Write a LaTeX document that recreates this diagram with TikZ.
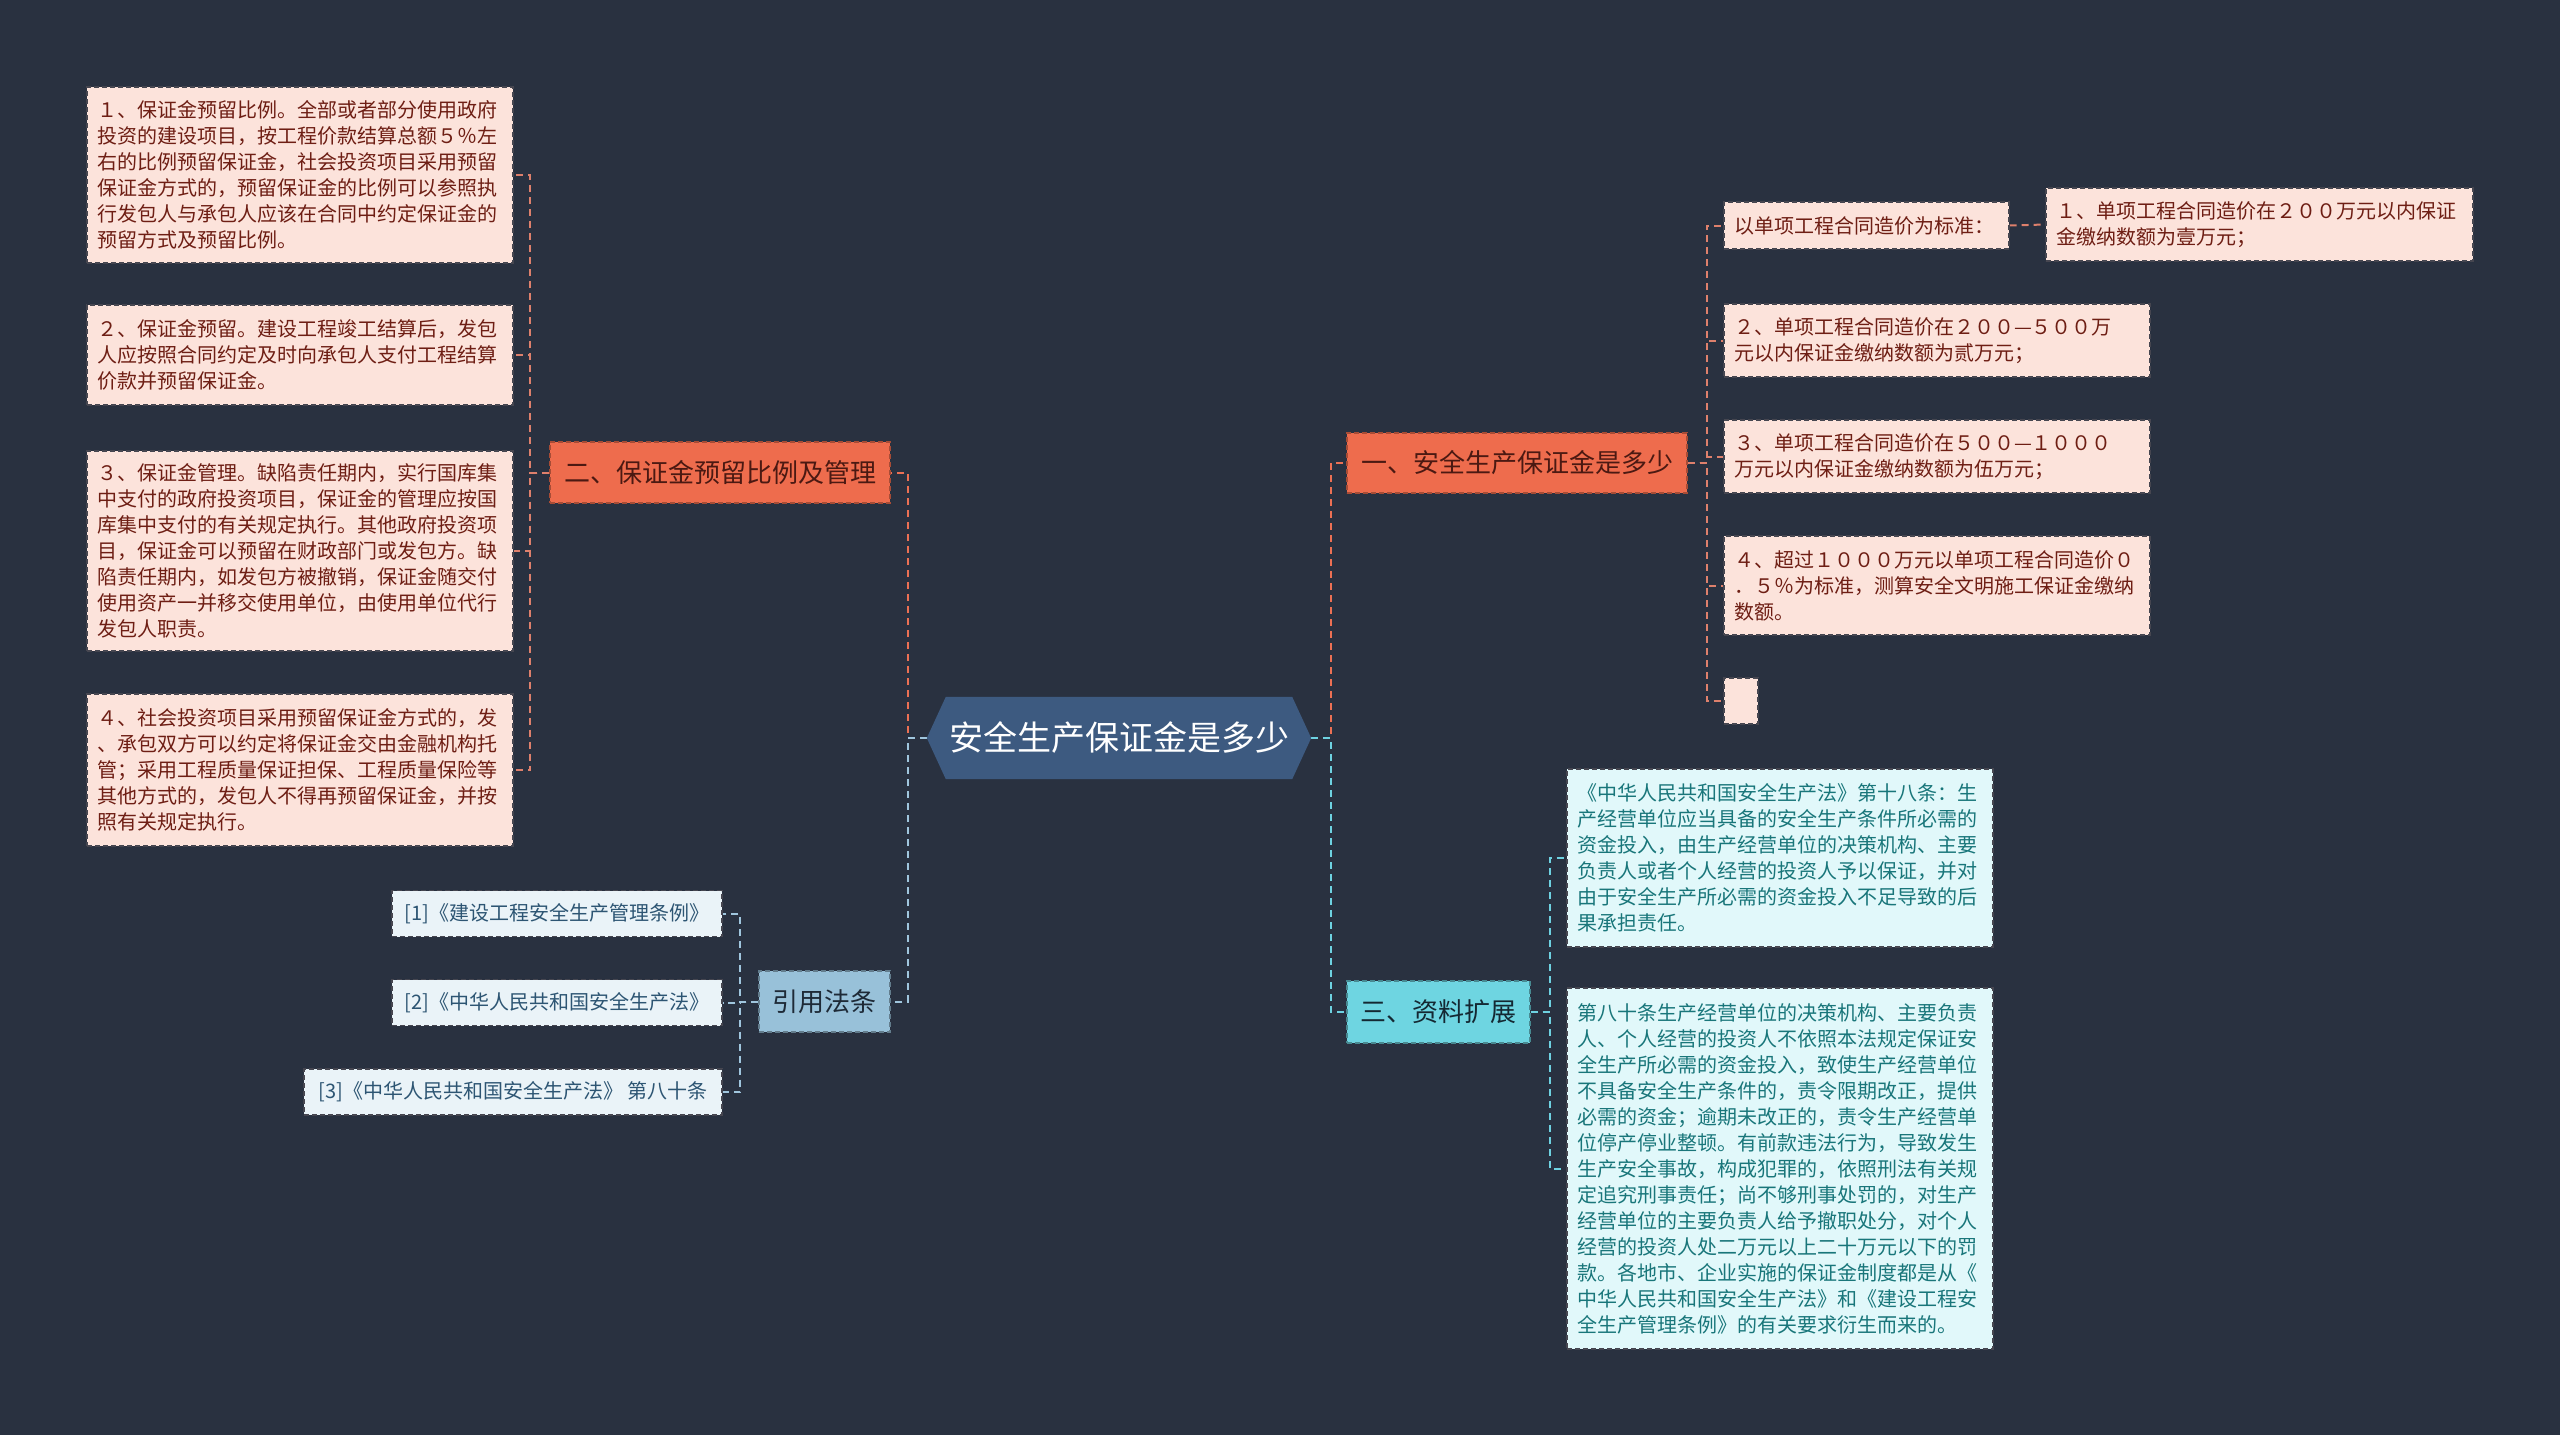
\documentclass[tikz,border=0pt]{standalone}
\usepackage{fontspec}
\setmainfont{Noto Sans CJK SC}
\usetikzlibrary{backgrounds}
\definecolor{bgc}{RGB}{41,49,64}
\definecolor{hexc}{RGB}{61,90,128}
\definecolor{orc}{RGB}{238,108,77}
\definecolor{ortx}{RGB}{75,25,18}
\definecolor{leafc}{RGB}{252,227,219}
\definecolor{leaftx}{RGB}{110,30,20}
\definecolor{cyc}{RGB}{110,213,225}
\definecolor{cytx}{RGB}{20,40,50}
\definecolor{cyleaf}{RGB}{225,248,250}
\definecolor{cyleaftx}{RGB}{25,118,122}
\definecolor{rfc}{RGB}{152,193,217}
\definecolor{rftx}{RGB}{30,42,55}
\definecolor{rfleaf}{RGB}{234,243,248}
\definecolor{rfleaftx}{RGB}{45,85,115}
\definecolor{orline}{RGB}{236,112,84}
\definecolor{leafline}{RGB}{222,128,108}
\definecolor{cyline}{RGB}{110,210,225}
\definecolor{rfline}{RGB}{160,198,222}
\definecolor{edgec}{RGB}{70,70,80}
\tikzset{
  boxbase/.style={rectangle, inner sep=0pt, draw=edgec, line width=1.2pt, dash pattern=on 5pt off 3pt, align=left},
  leafbox/.style={boxbase, fill=leafc, text=leaftx, font=\fontsize{20}{26}\selectfont},
  cyleafbox/.style={boxbase, fill=cyleaf, text=cyleaftx, font=\fontsize{20}{26}\selectfont},
  rfleafbox/.style={boxbase, fill=rfleaf, text=rfleaftx, font=\fontsize{20}{26}\selectfont},
  orbox/.style={boxbase, draw=orc!70!black, fill=orc, text=ortx, font=\fontsize{26}{30}\selectfont},
  cybox/.style={boxbase, draw=cyc!65!black, fill=cyc, text=cytx, font=\fontsize{26}{30}\selectfont},
  rfbox/.style={boxbase, draw=rfc!65!black, fill=rfc, text=rftx, font=\fontsize{26}{30}\selectfont},
  conn/.style={line width=2pt, dash pattern=on 7pt off 5pt},
}
\begin{document}
\begin{tikzpicture}[x=1pt,y=-1pt]
\useasboundingbox (0,0) rectangle (2560,1435);
% center
\node[minimum width=384pt, minimum height=82pt, inner sep=0pt, text=white, font=\fontsize{34}{40}\selectfont] (c) at (1119,738) {安全生产保证金是多少};
% branches
\node[orbox, minimum width=340pt, minimum height=61pt] (b2) at (720,472.5) {二、保证金预留比例及管理};
\node[orbox, minimum width=340pt, minimum height=60pt] (b1) at (1517,463) {一、安全生产保证金是多少};
\node[cybox, minimum width=183pt, minimum height=62pt] (b3) at (1438.5,1012) {三、资料扩展};
\node[rfbox, minimum width=131pt, minimum height=61pt] (b4) at (824.5,1001.5) {引用法条};
% left leaves
\node[leafbox, minimum width=426pt, minimum height=176pt, text width=406pt] (l1) at (300,175) {１、保证金预留比例。全部或者部分使用政府\\投资的建设项目，按工程价款结算总额５％左\\右的比例预留保证金，社会投资项目采用预留\\保证金方式的，预留保证金的比例可以参照执\\行发包人与承包人应该在合同中约定保证金的\\预留方式及预留比例。};
\node[leafbox, minimum width=426pt, minimum height=100pt, text width=406pt] (l2) at (300,355) {２、保证金预留。建设工程竣工结算后，发包\\人应按照合同约定及时向承包人支付工程结算\\价款并预留保证金。};
\node[leafbox, minimum width=426pt, minimum height=200pt, text width=406pt] (l3) at (300,551) {３、保证金管理。缺陷责任期内，实行国库集\\中支付的政府投资项目，保证金的管理应按国\\库集中支付的有关规定执行。其他政府投资项\\目，保证金可以预留在财政部门或发包方。缺\\陷责任期内，如发包方被撤销，保证金随交付\\使用资产一并移交使用单位，由使用单位代行\\发包人职责。};
\node[leafbox, minimum width=426pt, minimum height=152pt, text width=406pt] (l4) at (300,770) {４、社会投资项目采用预留保证金方式的，发\\、承包双方可以约定将保证金交由金融机构托\\管；采用工程质量保证担保、工程质量保险等\\其他方式的，发包人不得再预留保证金，并按\\照有关规定执行。};
% right leaves
\node[leafbox, minimum width=285pt, minimum height=47pt, text width=265pt] (r0) at (1866.5,225.5) {以单项工程合同造价为标准：};
\node[leafbox, minimum width=427pt, minimum height=73pt, text width=407pt] (r0c) at (2259.5,224.5) {１、单项工程合同造价在２００万元以内保证\\金缴纳数额为壹万元；};
\node[leafbox, minimum width=426pt, minimum height=73pt, text width=406pt] (r2) at (1937,340.5) {２、单项工程合同造价在２００—５００万\\元以内保证金缴纳数额为贰万元；};
\node[leafbox, minimum width=426pt, minimum height=73pt, text width=406pt] (r3) at (1937,456.5) {３、单项工程合同造价在５００—１０００\\万元以内保证金缴纳数额为伍万元；};
\node[leafbox, minimum width=426pt, minimum height=99pt, text width=406pt] (r4) at (1937,585.5) {４、超过１０００万元以单项工程合同造价０\\．５％为标准，测算安全文明施工保证金缴纳\\数额。};
\node[leafbox, minimum width=34pt, minimum height=46pt] (r5) at (1741,701) {};
% cyan leaves
\node[cyleafbox, minimum width=426pt, minimum height=178pt, text width=406pt] (ca) at (1780,858) {《中华人民共和国安全生产法》第十八条：生\\产经营单位应当具备的安全生产条件所必需的\\资金投入，由生产经营单位的决策机构、主要\\负责人或者个人经营的投资人予以保证，并对\\由于安全生产所必需的资金投入不足导致的后\\果承担责任。};
\node[cyleafbox, minimum width=426pt, minimum height=361pt, text width=406pt] (cb) at (1780,1168.5) {第八十条生产经营单位的决策机构、主要负责\\人、个人经营的投资人不依照本法规定保证安\\全生产所必需的资金投入，致使生产经营单位\\不具备安全生产条件的，责令限期改正，提供\\必需的资金；逾期未改正的，责令生产经营单\\位停产停业整顿。有前款违法行为，导致发生\\生产安全事故，构成犯罪的，依照刑法有关规\\定追究刑事责任；尚不够刑事处罚的，对生产\\经营单位的主要负责人给予撤职处分，对个人\\经营的投资人处二万元以上二十万元以下的罚\\款。各地市、企业实施的保证金制度都是从《\\中华人民共和国安全生产法》和《建设工程安\\全生产管理条例》的有关要求衍生而来的。};
% ref leaves
\node[rfleafbox, minimum width=330pt, minimum height=46pt] (f1) at (557,913.5) {[1]《建设工程安全生产管理条例》};
\node[rfleafbox, minimum width=330pt, minimum height=46pt] (f2) at (557,1002.5) {[2]《中华人民共和国安全生产法》};
\node[rfleafbox, minimum width=418pt, minimum height=46pt] (f3) at (513,1092) {[3]《中华人民共和国安全生产法》 第八十条};
\begin{scope}[on background layer]
\fill[bgc] (0,0) rectangle (2560,1435);
% center connectors
\draw[conn, orline] (c.west) -- ++(-19,0) |- (b2.east);
\draw[conn, rfline] (c.west) -- ++(-19,0) |- (b4.east);
\draw[conn, orline] (c.east) -- ++(20,0) |- (b1.west);
\draw[conn, cyline] (c.east) -- ++(20,0) |- (b3.west);
% left leaves
\foreach \n in {l1,l2,l3,l4} \draw[conn, leafline] (b2.west) -- ++(-19,0) |- (\n.east);
% right leaves
\foreach \n in {r0,r2,r3,r4,r5} \draw[conn, leafline] (b1.east) -- ++(19,0) |- (\n.west);
\draw[conn, leafline] (r0.east) -- (r0c.west);
% cyan leaves
\foreach \n in {ca,cb} \draw[conn, cyline] (b3.east) -- ++(19,0) |- (\n.west);
% ref leaves
\foreach \n in {f1,f2,f3} \draw[conn, rfline] (b4.west) -- ++(-18,0) |- (\n.east);
% hexagon
\fill[hexc] (c.west) -- ([xshift=19pt]c.north west) -- ([xshift=-19pt]c.north east) -- (c.east) -- ([xshift=-19pt]c.south east) -- ([xshift=19pt]c.south west) -- cycle;
\end{scope}
\end{tikzpicture}
\end{document}
